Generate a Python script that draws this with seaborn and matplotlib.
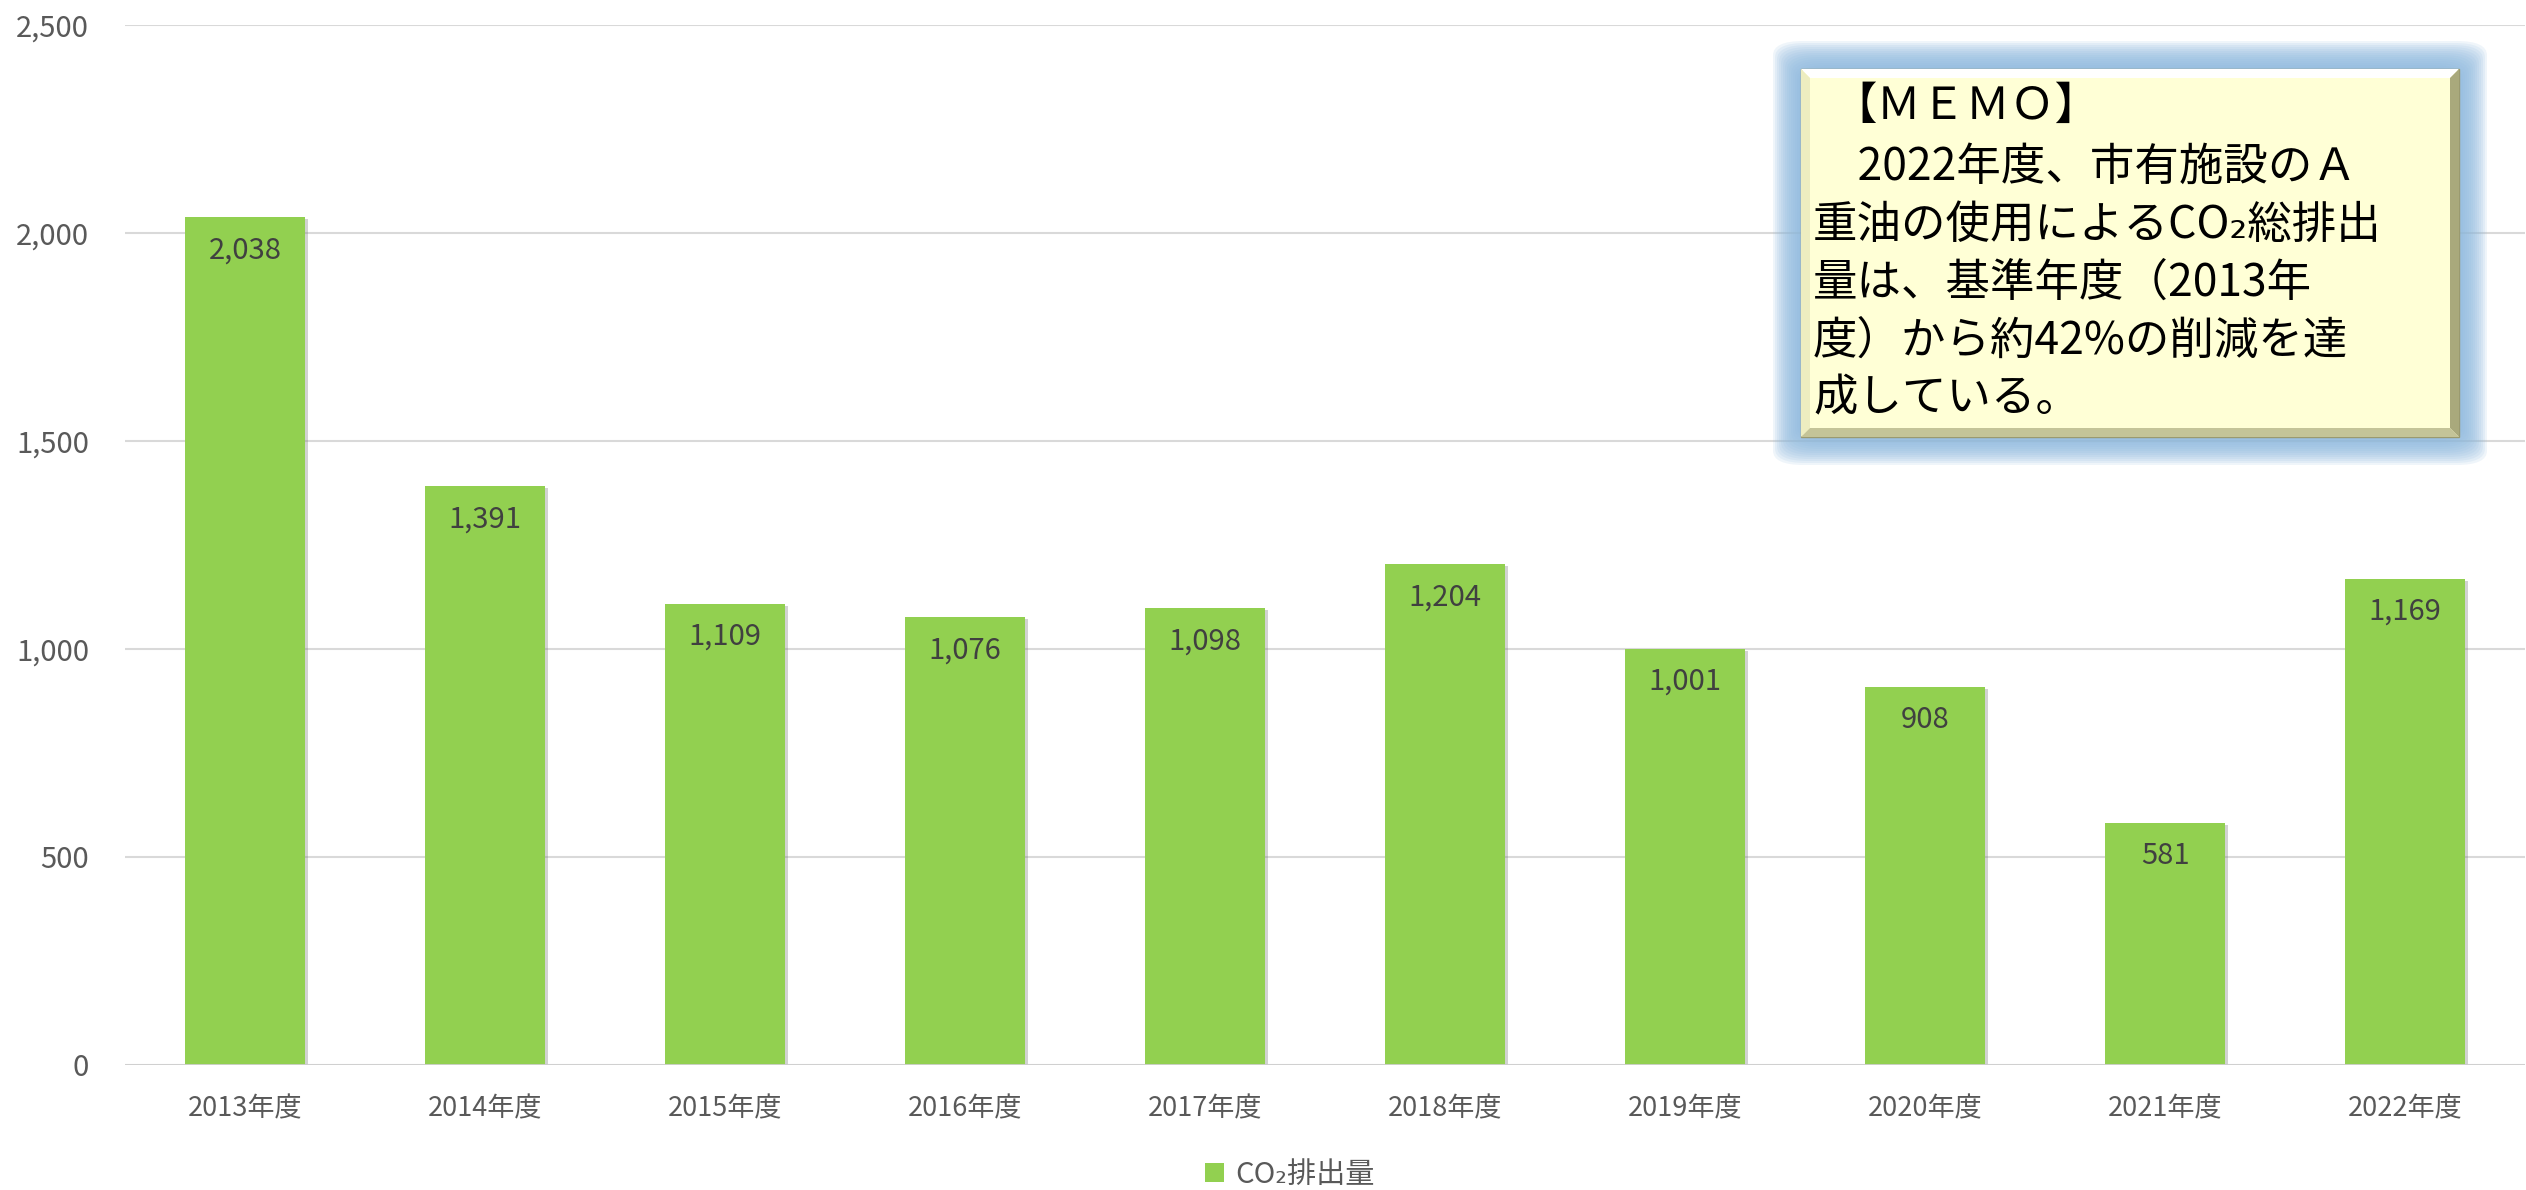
import matplotlib
matplotlib.use('Agg')
import matplotlib.pyplot as plt
import matplotlib.patheffects as pe
from matplotlib.patches import Patch, FancyBboxPatch, Rectangle, Polygon
import seaborn as sns

# data
years = ['2013年度', '2014年度', '2015年度', '2016年度', '2017年度',
         '2018年度', '2019年度', '2020年度', '2021年度', '2022年度']
co2 = [2038, 1391, 1109, 1076, 1098, 1204, 1001, 908, 581, 1169]
series_name = 'CO₂排出量'
y_ticks = [0, 500, 1000, 1500, 2000, 2500]
memo_lines = ['【ＭＥＭＯ】',
              '\u30002022年度、市有施設のＡ',
              '重油の使用によるCO₂総排出',
              '量は、基準年度（2013年',
              '度）から約42%の削減を達',
              '成している。']

W, H = 2526, 1190
BAR = '#92D050'
GRAY = '#595959'
FONT = ['Noto Sans CJK JP', 'DejaVu Sans']

sns.set_theme(style='white')
plt.rcParams['font.family'] = FONT

fig = plt.figure(figsize=(W / 100, H / 100), dpi=100)
ax = fig.add_axes([125 / W, 1 - 1065 / H, 2400 / W, 1040 / H])

sns.barplot(x=years, y=co2, color=BAR, width=0.5, saturation=1, ax=ax,
            edgecolor='none', zorder=3)
for p in ax.patches:
    p.set_path_effects([pe.SimplePatchShadow(offset=(2.5, -1.5), shadow_rgbFace='#7f7f7f', alpha=0.35),
                        pe.Normal()])

ax.set_ylim(0, 2500)
ax.set_xlim(-0.5, len(years) - 0.5)
ax.set_yticks(y_ticks)
ax.set_yticklabels([f'{v:,}' for v in y_ticks], color=GRAY, fontsize=21)
ax.tick_params(axis='x', colors=GRAY, labelsize=19.5, length=0, pad=22)
ax.tick_params(axis='y', length=0, pad=26)
ax.yaxis.grid(True, color='#D9D9D9', linewidth=1.5, zorder=0)
ax.set_axisbelow(True)
for s in ax.spines.values():
    s.set_visible(False)
ax.axhline(0, color='#D0D0D0', linewidth=2, zorder=4)
ax.set_xlabel('')
ax.set_ylabel('')

for i, v in enumerate(co2):
    ax.annotate(f'{v:,}', (i, v), xytext=(0, -13), textcoords='offset points',
                ha='center', va='top', fontsize=21, color='#404040', zorder=5)

leg = fig.legend(handles=[Patch(facecolor=BAR, edgecolor='none')], labels=[series_name],
                 loc='center', bbox_to_anchor=(1290 / W, 1 - 1175 / H), frameon=False,
                 fontsize=21, handlelength=0.62, handleheight=0.62, handletextpad=0.4)
for t in leg.get_texts():
    t.set_color(GRAY)


def fx(px):
    return px / W


def fy(py):
    return 1 - py / H


# memo box with blue glow
bx0, by0, bx1, by1 = 1801, 69, 2459, 437
for k in range(14, 0, -1):
    g = k * 2
    fig.patches.append(FancyBboxPatch((fx(bx0 - g), fy(by1 + g)),
                                      (bx1 - bx0 + 2 * g) / W, (by1 - by0 + 2 * g) / H,
                                      boxstyle='round,pad=0,rounding_size=0.012',
                                      transform=fig.transFigure, facecolor='#8FBADF',
                                      edgecolor='none', alpha=0.14))
fig.patches.append(Rectangle((fx(bx0), fy(by1)), (bx1 - bx0) / W, (by1 - by0) / H,
                             transform=fig.transFigure, facecolor='#FFFFD6',
                             edgecolor='#9A9A70', linewidth=1.0))
bv = 9
bevels = [
    ([(bx0, by0), (bx1, by0), (bx1 - bv, by0 + bv), (bx0 + bv, by0 + bv)], '#FFFFFF'),
    ([(bx0, by0), (bx0 + bv, by0 + bv), (bx0 + bv, by1 - bv), (bx0, by1)], '#EDEDC0'),
    ([(bx1, by0), (bx1, by1), (bx1 - bv, by1 - bv), (bx1 - bv, by0 + bv)], '#A9A97C'),
    ([(bx0, by1), (bx0 + bv, by1 - bv), (bx1 - bv, by1 - bv), (bx1, by1)], '#C4C498'),
]
for pts, col in bevels:
    fig.patches.append(Polygon([(fx(x), fy(y)) for x, y in pts], closed=True,
                               transform=fig.transFigure, facecolor=col, edgecolor='none'))

line_y = [106, 167, 225, 283, 341, 398]
for txt, yy in zip(memo_lines, line_y):
    x0 = 1813 if not txt.startswith('【') else 1832
    fig.text(fx(x0), fy(yy), txt, fontsize=32, color='black',
             ha='left', va='center', family=FONT)

fig.savefig('out.png', dpi=100, facecolor='white')
